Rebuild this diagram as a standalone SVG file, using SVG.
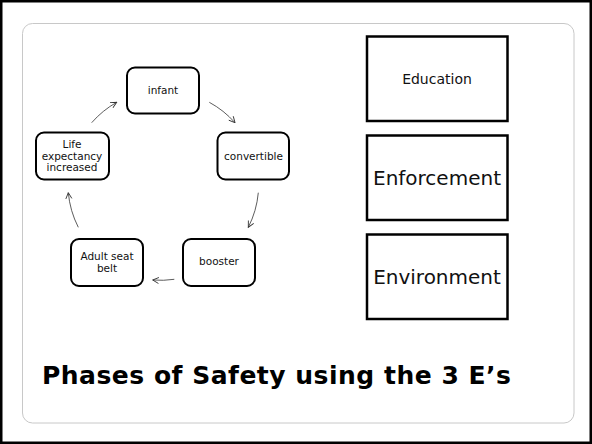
<svg xmlns="http://www.w3.org/2000/svg" width="592" height="444" viewBox="0 0 592 444">
<defs>
<style>
.frame{fill:#fff;stroke:#000;stroke-width:2.5}
.panel{fill:#fff;stroke:#c8c8c8;stroke-width:1}
.node{fill:#fff;stroke:#000;stroke-width:2}
.ebox{fill:#fff;stroke:#000;stroke-width:2.5}
.lbl{font-family:"DejaVu Sans",Verdana,sans-serif;font-size:10.5px;fill:#111;text-anchor:middle}
.elbl{font-family:"DejaVu Sans",Verdana,sans-serif;fill:#111;text-anchor:middle}
.title{font-family:"DejaVu Sans",Verdana,sans-serif;font-weight:bold;font-size:25px;letter-spacing:0.5px;fill:#000}
.conn{fill:none;stroke:#333;stroke-width:0.8;marker-end:url(#arr)}
</style>
<marker id="arr" viewBox="0 0 8 8" refX="7" refY="4" markerWidth="8" markerHeight="8" markerUnits="userSpaceOnUse" orient="auto">
<path d="M1,1 L7,4 L1,7" fill="none" stroke="#333" stroke-width="0.9"/>
</marker>
</defs>
<rect class="frame" x="1.25" y="1.25" width="589.5" height="441.5"/>
<rect class="panel" x="22.5" y="23.5" width="551.5" height="399.5" rx="10"/>

<g id="connectors">
<path class="conn" d="M91.7,122.7 A95,95 0 0 1 116.7,102.3"/>
<path class="conn" d="M209.3,102.3 A95,95 0 0 1 235,122.7"/>
<path class="conn" d="M258.3,192.7 A95,95 0 0 1 248.3,227.3"/>
<path class="conn" d="M174.3,279.3 A95,95 0 0 1 152.7,280"/>
<path class="conn" d="M78.3,227.3 A95,95 0 0 1 68.3,192.7"/>
</g>

<g id="infant">
<rect class="node" x="127" y="67.5" width="72" height="46" rx="8"/>
<text class="lbl" x="163" y="93.5">infant</text>
</g>
<g id="convertible">
<rect class="node" x="217.5" y="132.5" width="71.5" height="47" rx="8"/>
<text class="lbl" x="253.5" y="160">convertible</text>
</g>
<g id="booster">
<rect class="node" x="183" y="239" width="72" height="47" rx="8"/>
<text class="lbl" x="219" y="265">booster</text>
</g>
<g id="adult-seat-belt">
<rect class="node" x="71" y="239" width="72" height="47" rx="8"/>
<text class="lbl" x="107" y="260">Adult seat</text>
<text class="lbl" x="107" y="272">belt</text>
</g>
<g id="life-expectancy">
<rect class="node" x="36" y="132.5" width="73" height="47" rx="8"/>
<text class="lbl" x="72" y="147.5">Life</text>
<text class="lbl" x="72" y="159.5">expectancy</text>
<text class="lbl" x="72" y="171">increased</text>
</g>

<g id="education">
<rect class="ebox" x="367" y="36.5" width="140.5" height="84.5"/>
<text class="elbl" x="437" y="84" font-size="14">Education</text>
</g>
<g id="enforcement">
<rect class="ebox" x="367" y="135.5" width="140.5" height="84.5"/>
<text class="elbl" x="437" y="185" font-size="20">Enforcement</text>
</g>
<g id="environment">
<rect class="ebox" x="367" y="234.5" width="140.5" height="84.5"/>
<text class="elbl" x="437" y="283.5" font-size="20">Environment</text>
</g>

<text class="title" x="42" y="383.5">Phases of Safety using the 3 E’s</text>
</svg>
